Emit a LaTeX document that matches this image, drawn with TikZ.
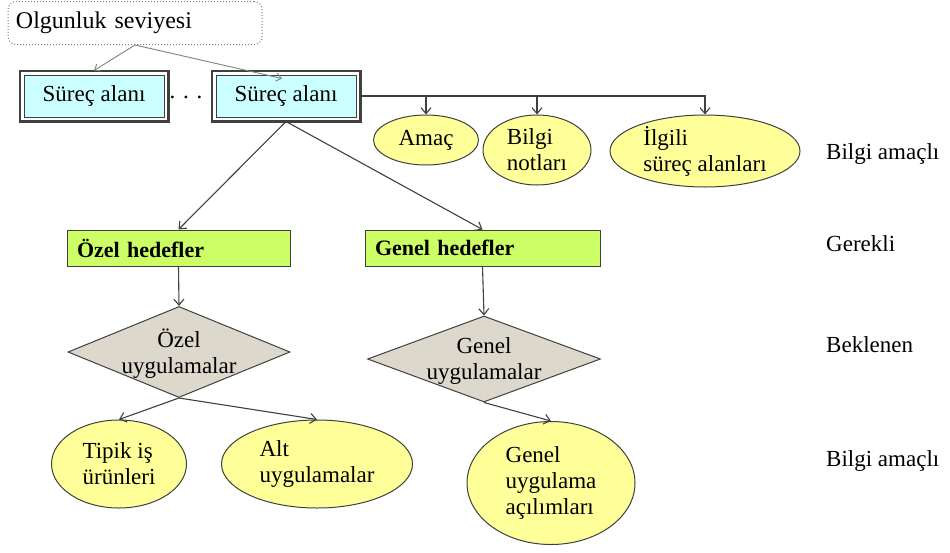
\documentclass[tikz,border=0pt]{standalone}
\usepackage{fontspec}
\setmainfont{Liberation Serif}
\usetikzlibrary{shapes.geometric,arrows.meta,calc}
\definecolor{cyanfill}{HTML}{CCFFFF}
\definecolor{greenfill}{HTML}{CCFF66}
\definecolor{yelfill}{HTML}{FFFF99}
\definecolor{diafill}{HTML}{DDD8CC}
\definecolor{edgec}{HTML}{404040}
\begin{document}
\begin{tikzpicture}[x=1pt,y=-1pt,
  font=\fontsize{23}{26}\selectfont,
  arr/.style={draw=edgec, line width=1.1pt, -{Straight Barb[length=6pt,width=10pt]}},
  thinarr/.style={draw=gray, line width=0.9pt, -{Straight Barb[length=5pt,width=8pt]}},
  sabox/.style={draw=edgec, line width=1pt,
    fill=cyanfill, minimum width=140pt, minimum height=42pt, inner sep=0},
  saframe/.style={draw=edgec, line width=2.8pt},
  goalbox/.style={draw=edgec, line width=1pt, fill=greenfill, minimum height=36pt,
    inner xsep=10pt, align=left, font=\fontsize{22}{26}\selectfont\bfseries},
  oval/.style={ellipse, draw=edgec, line width=1pt, fill=yelfill, inner sep=0, align=left},
  dia/.style={diamond, draw=edgec, line width=1pt, fill=diafill, inner sep=0},
  side/.style={anchor=base west, inner sep=0}
]
\useasboundingbox (0,0) rectangle (950,552);

% maturity level
\node[draw=gray, dotted, line width=1pt, rounded corners=8pt, minimum width=254pt,
  minimum height=43pt, text width=238pt, inner xsep=8pt, align=left,
  font=\fontsize{24}{26}\selectfont] (ol) at (135,23) {Olgunluk seviyesi};

% process areas
\node[sabox] (sa1) at (94,96) {Süreç alanı};
\draw[saframe] ([shift={(-3.6pt,3.6pt)}]sa1.north west) rectangle ([shift={(3.6pt,-3.6pt)}]sa1.south east);
\node[inner sep=0] (dots) at (186,97) {. . .};
\node[sabox] (sa2) at (286,96) {Süreç alanı};
\draw[saframe] ([shift={(-3.6pt,3.6pt)}]sa2.north west) rectangle ([shift={(3.6pt,-3.6pt)}]sa2.south east);

\draw[thinarr] (ol.south) -- ([yshift=4pt]sa1.north);
\draw[thinarr] (ol.south) -- ([xshift=-4pt,yshift=-4pt]sa2.north);

% informative top
\node[oval, minimum width=105pt, minimum height=50pt] (amac) at (426,140) {Amaç};
\node[oval, minimum width=108pt, minimum height=70pt] (bnot) at (537,150) {Bilgi\\notları};
\node[oval, minimum width=190pt, minimum height=72pt] (ilg) at (705,151) {İlgili\\süreç alanları};

\draw[arr] ([xshift=4pt]sa2.east) -| (ilg.north);
\draw[arr] (amac.north |- sa2.east) -- (amac.north);
\draw[arr] (bnot.north |- sa2.east) -- (bnot.north);

% goals
\node[goalbox, minimum width=223pt, text width=203pt] (oh) at (178.5,248) {Özel hedefler};
\node[goalbox, minimum width=235pt, text width=215pt] (gh) at (482.5,248) {Genel hedefler};

\draw[arr] ([yshift=-4pt]sa2.south) -- (oh.north);
\draw[arr] ([yshift=-4pt]sa2.south) -- (gh.north);

% practices
\node[dia, minimum width=222pt, minimum height=91pt] (od) at (179,352)
  {\smash{\makebox[0pt]{\raisebox{-9pt}{\begin{tabular}{@{}c@{}}Özel\\uygulamalar\end{tabular}}}}};
\node[dia, minimum width=233pt, minimum height=86pt] (gd) at (484,359)
  {\smash{\makebox[0pt]{\raisebox{-9pt}{\begin{tabular}{@{}c@{}}Genel\\uygulamalar\end{tabular}}}}};

\draw[arr] (oh.south) -- (od.north);
\draw[arr] (gh.south) -- (gd.north);

% informative bottom
\node[oval, minimum width=135pt, minimum height=88pt] (tip) at (119,464) {Tipik iş\\ürünleri};
\node[oval, minimum width=191pt, minimum height=88pt] (alt) at (317,464) {Alt\\uygulamalar};
\node[oval, minimum width=168pt, minimum height=123pt] (gua) at (551,483) {Genel\\uygulama\\açılımları};

\draw[arr] (od.south) -- (tip.north);
\draw[arr] (od.south) -- (alt.north);
\draw[arr] (gd.south) -- (gua.north);

% side labels
\node[side] (l1) at (826,159) {Bilgi amaçlı};
\node[side] (l2) at (826,251) {Gerekli};
\node[side] (l3) at (826,352) {Beklenen};
\node[side] (l4) at (826,466) {Bilgi amaçlı};
\end{tikzpicture}
\end{document}
